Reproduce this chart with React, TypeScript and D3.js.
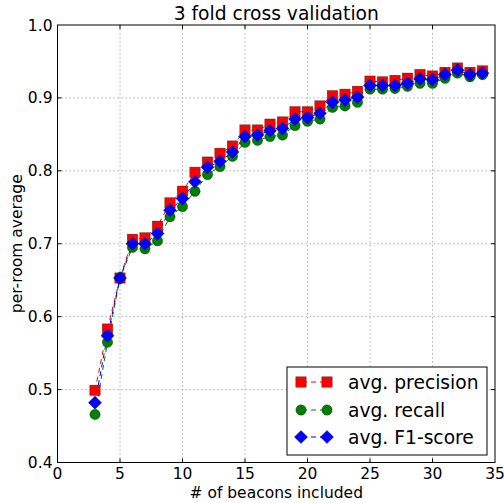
import React from "react";
import * as d3 from "d3";

const beacons = [3,4,5,6,7,8,9,10,11,12,13,14,15,16,17,18,19,20,21,22,23,24,25,26,27,28,29,30,31,32,33,34];
const precision = [0.499,0.583,0.653,0.706,0.708,0.724,0.756,0.772,0.798,0.812,0.824,0.834,0.856,0.856,0.864,0.867,0.881,0.881,0.889,0.903,0.905,0.909,0.923,0.922,0.924,0.927,0.932,0.930,0.935,0.941,0.935,0.937];
const recall = [0.466,0.565,0.653,0.695,0.693,0.704,0.737,0.751,0.772,0.795,0.806,0.820,0.839,0.842,0.847,0.849,0.862,0.868,0.871,0.887,0.889,0.894,0.912,0.912,0.913,0.916,0.920,0.920,0.927,0.934,0.929,0.932];
const f1score = [0.482,0.574,0.653,0.700,0.700,0.714,0.746,0.762,0.785,0.805,0.813,0.826,0.847,0.849,0.855,0.858,0.871,0.873,0.879,0.894,0.897,0.901,0.917,0.917,0.917,0.920,0.926,0.925,0.932,0.938,0.932,0.934];
const xTicks = [0,5,10,15,20,25,30,35];
const yTicks = [0.4,0.5,0.6,0.7,0.8,0.9,1.0];
const seriesNames = ["avg. precision","avg. recall","avg. F1-score"];

const W = 504, H = 503;
const L = 57.5, R = 495, T = 25, B = 462.5;
const FONT = "DejaVu Sans, sans-serif";

type Shape = "square" | "circle" | "diamond";

function Marker({ x, y, shape, color }: { x: number; y: number; shape: Shape; color: string }) {
  if (shape === "square") {
    return <rect x={x - 5.2} y={y - 5.2} width={10.4} height={10.4} fill={color} stroke="#000" strokeWidth={0.5} strokeOpacity={0.6} />;
  }
  if (shape === "circle") {
    return <circle cx={x} cy={y} r={5.2} fill={color} stroke="#000" strokeWidth={0.5} strokeOpacity={0.6} />;
  }
  const d = 6.6;
  return <path d={`M${x},${y - d}L${x + d},${y}L${x},${y + d}L${x - d},${y}Z`} fill={color} stroke="#000" strokeWidth={0.5} strokeOpacity={0.6} />;
}

export default function App() {
  const x = d3.scaleLinear().domain([0, 35]).range([L, R]);
  const y = d3.scaleLinear().domain([0.4, 1.0]).range([B, T]);

  const series: { name: string; values: number[]; color: string; shape: Shape }[] = [
    { name: seriesNames[0], values: precision, color: "#ff0000", shape: "square" },
    { name: seriesNames[1], values: recall, color: "#008000", shape: "circle" },
    { name: seriesNames[2], values: f1score, color: "#0000ff", shape: "diamond" },
  ];

  const line = d3.line<[number, number]>().x((d) => x(d[0])).y((d) => y(d[1]));

  const legX = 287, legY = 367, legW = 200, legH = 88;
  const rowY = [382, 410, 437];

  return (
    <svg width={W} height={H} style={{ position: "absolute", left: 0, top: 0, background: "#fff" }} fontFamily={FONT}>
      <rect x={0} y={0} width={W} height={H} fill="#fff" />
      {/* grid */}
      {xTicks.slice(1, -1).map((t) => (
        <line key={"gx" + t} x1={x(t)} x2={x(t)} y1={T} y2={B} stroke="#b0b0b0" strokeWidth={1} strokeDasharray="1.5,2.5" />
      ))}
      {yTicks.slice(1, -1).map((t) => (
        <line key={"gy" + t} x1={L} x2={R} y1={y(t)} y2={y(t)} stroke="#b0b0b0" strokeWidth={1} strokeDasharray="1.5,2.5" />
      ))}
      {/* lines */}
      {series.map((s) => (
        <path key={"l" + s.name} d={line(beacons.map((b, i) => [b, s.values[i]]) as [number, number][]) || ""} fill="none" stroke={s.color} strokeWidth={1} strokeDasharray="5,4" />
      ))}
      {/* markers */}
      {series.map((s) => (
        <g key={"m" + s.name}>
          {beacons.map((b, i) => (
            <Marker key={b} x={x(b)} y={y(s.values[i])} shape={s.shape} color={s.color} />
          ))}
        </g>
      ))}
      {/* ticks */}
      {xTicks.slice(1, -1).map((t) => (
        <g key={"tx" + t}>
          <line x1={x(t)} x2={x(t)} y1={B} y2={B - 4} stroke="#000" />
          <line x1={x(t)} x2={x(t)} y1={T} y2={T + 4} stroke="#000" />
        </g>
      ))}
      {yTicks.slice(1, -1).map((t) => (
        <g key={"ty" + t}>
          <line x1={L} x2={L + 4} y1={y(t)} y2={y(t)} stroke="#000" />
          <line x1={R} x2={R - 4} y1={y(t)} y2={y(t)} stroke="#000" />
        </g>
      ))}
      {/* frame */}
      <rect x={L} y={T} width={R - L} height={B - T} fill="none" stroke="#000" strokeWidth={1} />
      {/* tick labels */}
      {xTicks.map((t) => (
        <text key={"xl" + t} x={x(t)} y={B + 16} fontSize={15.5} textAnchor="middle" fill="#000">{String(t)}</text>
      ))}
      {yTicks.map((t) => (
        <text key={"yl" + t} x={L - 5} y={y(t) + 5.5} fontSize={15.5} textAnchor="end" fill="#000">{t.toFixed(1)}</text>
      ))}
      {/* axis labels */}
      <text x={(L + R) / 2} y={498} fontSize={15.5} textAnchor="middle" fill="#000"># of beacons included</text>
      <text transform={`translate(22,${(T + B) / 2}) rotate(-90)`} fontSize={15.5} textAnchor="middle" fill="#000">per-room average</text>
      {/* title */}
      <text x={(L + R) / 2} y={20} fontSize={18.7} textAnchor="middle" fill="#000">3 fold cross validation</text>
      {/* legend */}
      <rect x={legX} y={legY} width={legW} height={legH} fill="#fff" stroke="#000" strokeWidth={1} />
      {series.map((s, i) => (
        <g key={"leg" + s.name}>
          <line x1={301} x2={327} y1={rowY[i]} y2={rowY[i]} stroke={s.color} strokeWidth={1} strokeDasharray="5,4" strokeDashoffset={-1} />
          <Marker x={301} y={rowY[i]} shape={s.shape} color={s.color} />
          <Marker x={327} y={rowY[i]} shape={s.shape} color={s.color} />
          <text x={348} y={rowY[i] + 6.5} fontSize={18.7} fill="#000">{s.name}</text>
        </g>
      ))}
    </svg>
  );
}
